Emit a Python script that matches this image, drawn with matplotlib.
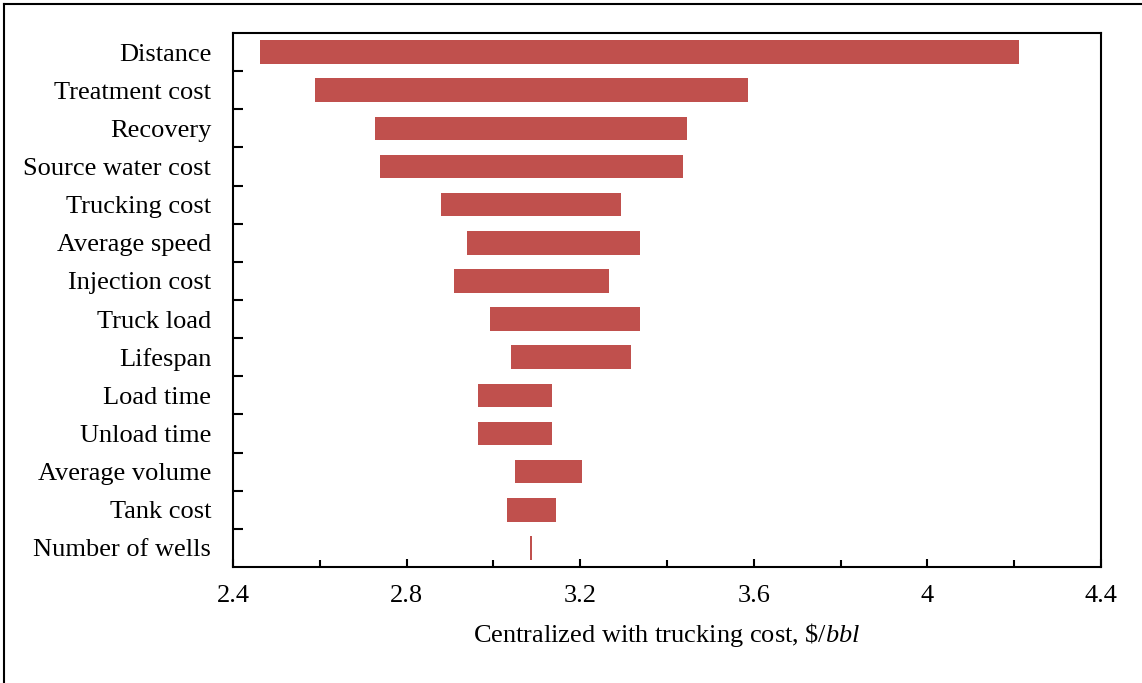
import matplotlib
matplotlib.use("Agg")
import matplotlib.pyplot as plt
from matplotlib.lines import Line2D

# Tornado data, top to bottom
factors = ["Distance", "Treatment cost", "Recovery", "Source water cost",
           "Trucking cost", "Average speed", "Injection cost", "Truck load",
           "Lifespan", "Load time", "Unload time", "Average volume",
           "Tank cost", "Number of wells"]
low = [2.462, 2.589, 2.728, 2.739, 2.880, 2.940, 2.910, 2.993,
       3.041, 2.965, 2.965, 3.050, 3.032, 3.084]
high = [4.211, 3.586, 3.447, 3.436, 3.295, 3.337, 3.267, 3.337,
        3.318, 3.136, 3.136, 3.203, 3.145, 3.090]

plt.rcParams['font.family'] = ['Liberation Serif', 'DejaVu Serif']
plt.rcParams['mathtext.fontset'] = 'custom'
plt.rcParams['mathtext.it'] = 'Liberation Serif:italic'
plt.rcParams['mathtext.rm'] = 'Liberation Serif'

fig = plt.figure(figsize=(11.42, 6.83), dpi=100)
ax = fig.add_axes([233 / 1142, 1 - 567 / 683, (1101 - 233) / 1142, (567 - 33) / 683])

n = len(factors)
ypos = list(range(n))
widths = [h - l for l, h in zip(low, high)]
ax.barh(ypos, widths, left=low, height=0.62, color="#C0504D")

ax.set_ylim(n - 0.5, -0.5)
ax.set_xlim(2.4, 4.4)
ax.set_xticks([2.4, 2.8, 3.2, 3.6, 4.0, 4.4])
ax.set_xticklabels(["2.4", "2.8", "3.2", "3.6", "4", "4.4"])
ax.set_xticks([2.6, 3.0, 3.4, 3.8, 4.2], minor=True)
ax.tick_params(axis='x', which='major', direction='in', length=6, width=1.5,
               labelsize=19, pad=13)
ax.tick_params(axis='x', which='minor', direction='in', length=5, width=1.5)

# category labels as text, boundary ticks on the spine
ax.set_yticks([i + 0.5 for i in range(n - 1)])
ax.set_yticklabels([])
ax.tick_params(axis='y', direction='in', length=7, width=1.5)
for i, name in enumerate(factors):
    ax.text(-0.025, i, name, transform=ax.get_yaxis_transform(),
            ha='right', va='center_baseline', fontsize=19)

for s in ax.spines.values():
    s.set_linewidth(1.5)

ax.set_xlabel(r"Centralized with trucking cost, $\mathit{\$/bbl}$",
              fontsize=19, labelpad=10)

# outer frame (left and top edges visible)
fig.add_artist(Line2D([4 / 1142, 4 / 1142], [0, 1 - 4 / 683],
                      transform=fig.transFigure, color='black', lw=1.5))
fig.add_artist(Line2D([4 / 1142, 1], [1 - 4 / 683, 1 - 4 / 683],
                      transform=fig.transFigure, color='black', lw=1.5))

fig.savefig("out.png", dpi=100)
